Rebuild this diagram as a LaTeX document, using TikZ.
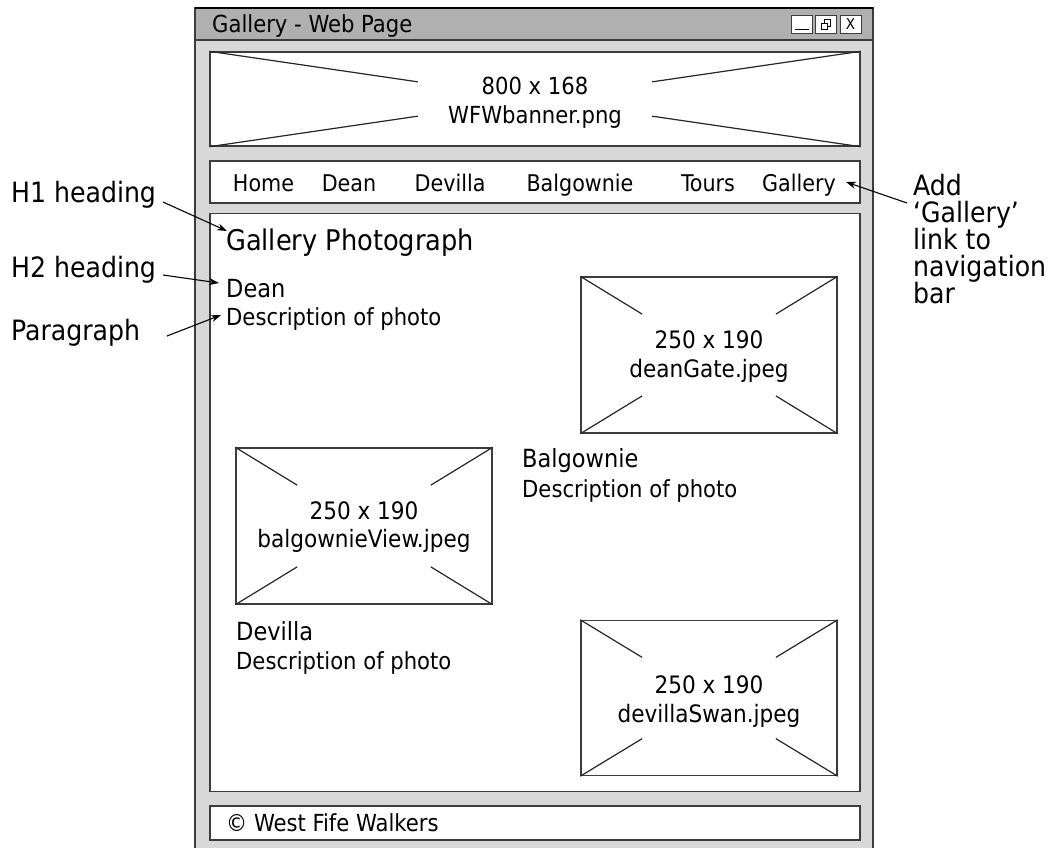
\documentclass[tikz,border=0pt]{standalone}
\usepackage{fontspec}
\setmainfont{DejaVu Sans Condensed}
\usetikzlibrary{calc,arrows.meta}
\newcommand\fsz[1]{\fontsize{#1}{#1}\selectfont}
\definecolor{framegray}{HTML}{D8D8D8}
\definecolor{titlegray}{HTML}{B0B0B0}
\definecolor{edge}{HTML}{3C3C3C}
\tikzset{
  panel/.style={draw=edge, fill=white, line width=1.6pt, inner sep=0pt},
  phbox/.style={draw=edge, fill=white, line width=1.4pt, inner sep=0pt},
  phline/.style={draw=black!85, line width=1.2pt},
  phtext/.style={inner sep=0pt, anchor=base, font=\fsz{24}},
  btn/.style={draw=edge, fill=white, line width=1pt, inner sep=0pt, minimum width=21pt, minimum height=18pt, font=\fsz{15}},
  navitem/.style={font=\fsz{23}, inner sep=0pt, anchor=base},
  lbl/.style={font=\fsz{28}, inner sep=0pt, anchor=base west},
  ctext/.style={inner sep=0pt, anchor=base west},
  arr/.style={draw=black, line width=1.1pt, -{Stealth[length=10pt,width=7pt]}}
}
\newcommand\phcross[2]{%
  \draw[phline] (#1.north west) -- ($(#1.north west)!#2!(#1.south east)$);
  \draw[phline] (#1.south east) -- ($(#1.south east)!#2!(#1.north west)$);
  \draw[phline] (#1.north east) -- ($(#1.north east)!#2!(#1.south west)$);
  \draw[phline] (#1.south west) -- ($(#1.south west)!#2!(#1.north east)$);
}
\begin{document}
\begin{tikzpicture}[x=1pt,y=-1pt]
\useasboundingbox (0,0) rectangle (1058,847);
\fill[white] (0,0) rectangle (1058,847);
\begin{scope}
\clip (0,0) rectangle (1058,847);
% window frame
\draw[edge, fill=framegray, line width=1.8pt] (195,8) rectangle (873,860);
\draw[edge, fill=titlegray, line width=1.8pt] (195,8) rectangle (873,40);
\draw[black, line width=2.4pt] (195,8) -- (873,8);
\end{scope}
\node[ctext, font=\fsz{23.5}] (title) at (212,32) {Gallery - Web Page};
\node[btn] (bmin) at (801.5,24) {};
\draw[black, line width=1pt] ($(bmin.south west)+(4,-4)$) -- ($(bmin.south east)+(-4,-4)$);
\node[btn] (bmax) at (826,24) {};
\draw[black, line width=0.9pt] ($(bmax.center)+(-5,-1)$) rectangle ($(bmax.center)+(1,5)$);
\draw[black, line width=0.9pt] ($(bmax.center)+(-2,-1)$) -- ($(bmax.center)+(-2,-5)$) -- ($(bmax.center)+(4,-5)$) -- ($(bmax.center)+(4,2)$) -- ($(bmax.center)+(1,2)$);
\node[btn] (bclose) at (850.5,24) {X};
% banner
\node[phbox, minimum width=650pt, minimum height=94pt] (banner) at (535,99) {};
\phcross{banner}{0.32}
\node[phtext, font=\fsz{23.5}] (bt1) at (535,94) {800 x 168};
\node[phtext, font=\fsz{23.5}] (bt2) at (535,123) {WFWbanner.png};
% nav bar
\node[panel, minimum width=650pt, minimum height=42pt] (nav) at (535,182) {};
\node[navitem] (nhome) at (263.5,191) {Home};
\node[navitem] (ndean) at (349,191) {Dean};
\node[navitem] (ndev) at (450,191) {Devilla};
\node[navitem] (nbal) at (580,191) {Balgownie};
\node[navitem] (ntour) at (708,191) {Tours};
\node[navitem] (ngal) at (799,191) {Gallery};
% content
\node[panel, minimum width=650pt, minimum height=578pt] (content) at (535,502.5) {};
\node[ctext, font=\fsz{28.5}] (gp) at (226,250) {Gallery Photograph};
\node[ctext, font=\fsz{25}] (deanh) at (226,297) {Dean};
\node[ctext, font=\fsz{23.5}] (deanp) at (226,325) {Description of photo};
\node[phbox, minimum width=256pt, minimum height=156pt] (deanimg) at (709,355) {};
\phcross{deanimg}{0.24}
\node[phtext] (dt1) at (709,348) {250 x 190};
\node[phtext] (dt2) at (709,377) {deanGate.jpeg};
\node[ctext, font=\fsz{25}] (balh) at (522,467) {Balgownie};
\node[ctext, font=\fsz{23.5}] (balp) at (522,497) {Description of photo};
\node[phbox, minimum width=256pt, minimum height=156pt] (balimg) at (364,526) {};
\phcross{balimg}{0.24}
\node[phtext] (bi1) at (364,519) {250 x 190};
\node[phtext] (bi2) at (364,547) {balgownieView.jpeg};
\node[ctext, font=\fsz{25}] (devh) at (236,640) {Devilla};
\node[ctext, font=\fsz{23.5}] (devp) at (236,669) {Description of photo};
\node[phbox, minimum width=256pt, minimum height=155pt] (devimg) at (709,698) {};
\phcross{devimg}{0.24}
\node[phtext] (dv1) at (709,693) {250 x 190};
\node[phtext] (dv2) at (709,722) {devillaSwan.jpeg};
% footer
\node[panel, minimum width=650pt, minimum height=34pt] (footer) at (535,823) {};
\node[ctext, font=\fsz{23.5}] (foottext) at (226,831) {\textcopyright{} West Fife Walkers};
% annotations
\node[lbl] (h1) at (11,202) {H1 heading};
\node[lbl] (h2) at (11,277) {H2 heading};
\node[lbl] (para) at (11,340) {Paragraph};
\node[lbl] (add1) at (913,195) {Add};
\node[lbl] (add2) at (913,222) {‘Gallery’};
\node[lbl] (add3) at (913,249) {link to};
\node[lbl] (add4) at (913,276) {navigation};
\node[lbl] (add5) at (913,303) {bar};
\coordinate (h1s) at (163,202);
\coordinate (h1e) at (227,231);
\coordinate (h2s) at (163,275);
\coordinate (h2e) at (219,283);
\coordinate (ps) at (167,336);
\coordinate (pe) at (221,315);
\coordinate (as) at (907,203);
\coordinate (ae) at (846,182);
\draw[arr] (h1s) -- (h1e);
\draw[arr] (h2s) -- (h2e);
\draw[arr] (ps) -- (pe);
\draw[arr] (as) -- (ae);
\end{tikzpicture}
\end{document}
